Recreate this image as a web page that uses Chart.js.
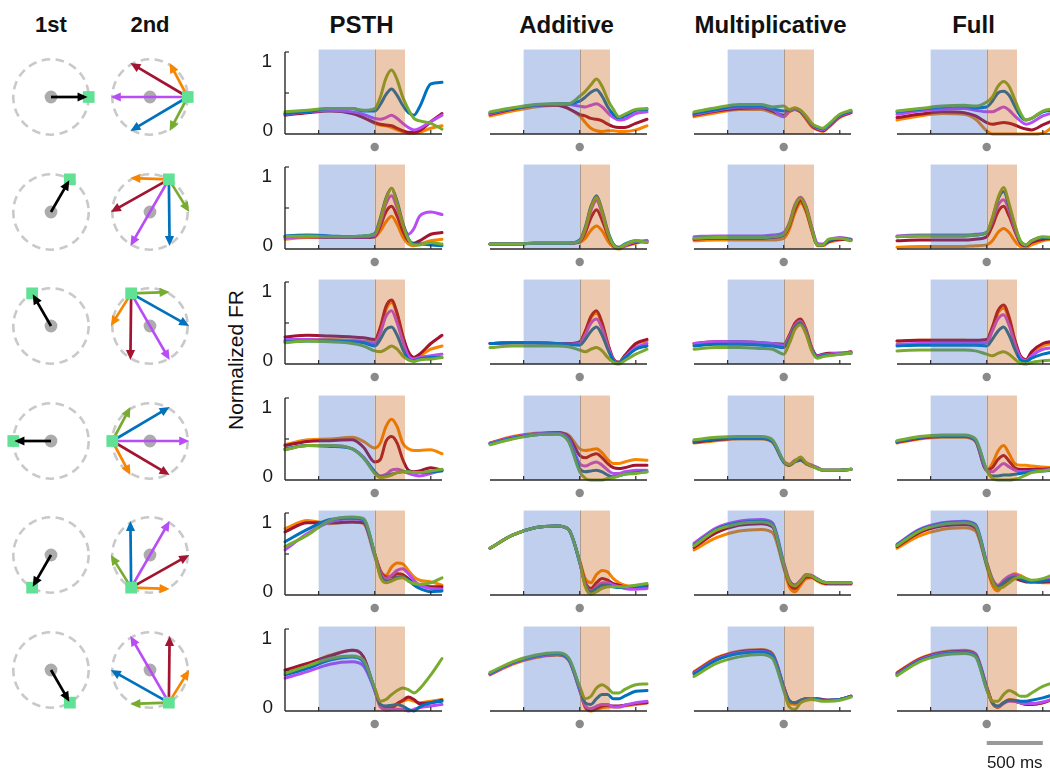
<!DOCTYPE html>
<html><head><meta charset="utf-8">
<script src="https://cdn.jsdelivr.net/npm/chart.js@4.4.1/dist/chart.umd.min.js"></script>
<style>
body{margin:0;background:#fff;width:1050px;height:772px;position:relative;overflow:hidden;font-family:"Liberation Sans",Arial,Helvetica,sans-serif;color:#111}
canvas{position:absolute}
.title{position:absolute;font-weight:bold;transform:translate(-50%,-50%);white-space:nowrap}
.ylab{position:absolute;font-size:21px;transform:translate(-50%,-50%) rotate(-90deg);white-space:nowrap}
</style></head><body>
<script>
// ---------------- DATA ----------------
const T = [-800,-600,-400,-200,-100,0,50,100,150,200,250,300,350,400,500,600]; // ms
const columnTitles = ['PSTH','Additive','Multiplicative','Full'];
const diagramTitles = ['1st','2nd'];
// series order: orange, dark red, magenta, blue, green  (2nd target at +60,+120,+180,+240,+300 deg)
const seriesColors = ['#F78500','#A2142F','#B94DF5','#0072BD','#77AC30'];
const firstAngles = [0,60,120,180,240,300];
const secondOffsets = [60,120,180,240,300];
const xTicks = [-500,0,500];
const yTicks = [0.5,1];
const yTickLabels = ['0','1'];
const blueEpoch = [-500,0];
const orangeEpoch = [0,270];
const scaleBarMs = 500;

// Row 1
const psth1 = [
 [.25,.27,.29,.26,.20,.13,.11,.10,.08,.05,.03,.01,.01,.02,.07,.10],
 [.23,.26,.28,.25,.20,.14,.12,.11,.10,.07,.04,.02,.02,.04,.15,.25],
 [.24,.27,.29,.27,.24,.19,.18,.20,.23,.19,.13,.08,.05,.07,.15,.23],
 [.25,.27,.31,.31,.28,.28,.36,.48,.55,.47,.35,.26,.23,.33,.61,.63],
 [.27,.29,.31,.31,.29,.31,.45,.68,.78,.66,.45,.30,.19,.16,.13,.06]];
const add1 = [
 [.22,.28,.33,.35,.31,.22,.14,.07,.04,.03,.04,.04,.03,.03,.05,.10],
 [.24,.30,.35,.35,.31,.24,.22,.19,.18,.16,.12,.09,.08,.08,.13,.18],
 [.25,.31,.35,.36,.36,.34,.33,.35,.37,.33,.26,.20,.17,.18,.25,.27],
 [.26,.31,.35,.37,.37,.40,.45,.51,.54,.46,.33,.24,.20,.22,.29,.30],
 [.27,.32,.36,.37,.37,.46,.52,.60,.67,.58,.42,.30,.21,.24,.30,.31]];
const mult1 = [
 [.21,.26,.30,.30,.26,.21,.27,.30,.27,.18,.09,.05,.03,.08,.20,.26],
 [.23,.28,.31,.32,.28,.23,.28,.30,.27,.19,.10,.06,.04,.09,.21,.26],
 [.24,.29,.33,.33,.30,.21,.28,.30,.28,.20,.11,.07,.05,.10,.22,.27],
 [.25,.30,.34,.34,.31,.28,.29,.31,.28,.21,.12,.08,.06,.11,.23,.28],
 [.27,.32,.36,.36,.33,.34,.30,.32,.29,.22,.13,.09,.07,.12,.24,.29]];
const full1 = [
 [.17,.22,.25,.24,.18,.04,.00,.00,.00,.00,.00,.00,.00,.00,.01,.10],
 [.20,.24,.27,.26,.22,.14,.12,.13,.14,.13,.11,.08,.06,.05,.11,.17],
 [.24,.28,.30,.31,.29,.27,.27,.30,.33,.29,.22,.16,.12,.14,.22,.26],
 [.27,.30,.33,.34,.32,.33,.40,.50,.52,.47,.34,.22,.17,.19,.27,.29],
 [.28,.31,.34,.35,.34,.39,.45,.58,.64,.58,.42,.26,.17,.19,.28,.31]];
// Row 2
const psth2 = [
 [.12,.14,.14,.14,.14,.15,.22,.33,.40,.30,.15,.06,.04,.06,.10,.12],
 [.15,.15,.14,.14,.14,.15,.28,.45,.52,.40,.22,.10,.07,.10,.18,.20],
 [.14,.15,.15,.15,.15,.17,.32,.55,.65,.50,.30,.18,.25,.40,.45,.42],
 [.16,.17,.16,.15,.16,.19,.38,.62,.74,.58,.32,.13,.06,.06,.05,.04],
 [.15,.16,.15,.15,.16,.18,.35,.60,.74,.55,.30,.12,.05,.05,.08,.06]];
const add2 = [
 [.06,.06,.07,.07,.07,.08,.13,.23,.28,.22,.10,.02,.00,.03,.07,.09],
 [.06,.06,.07,.07,.07,.09,.20,.38,.48,.35,.17,.04,.01,.04,.08,.10],
 [.06,.06,.07,.07,.07,.10,.24,.47,.59,.43,.20,.05,.01,.04,.09,.10],
 [.06,.06,.07,.07,.07,.11,.27,.52,.65,.47,.22,.06,.02,.06,.10,.08],
 [.06,.06,.07,.07,.07,.10,.25,.50,.63,.45,.20,.05,.01,.05,.10,.08]];
const mult2 = [
 [.10,.11,.11,.11,.11,.13,.24,.44,.56,.45,.22,.04,.04,.08,.11,.12],
 [.12,.13,.13,.13,.14,.17,.28,.48,.59,.47,.24,.05,.05,.09,.12,.11],
 [.15,.16,.16,.16,.17,.20,.32,.54,.63,.52,.27,.07,.06,.11,.14,.12],
 [.13,.14,.14,.14,.15,.18,.30,.52,.62,.50,.25,.05,.05,.10,.13,.11],
 [.13,.14,.14,.14,.15,.18,.30,.52,.62,.50,.25,.05,.05,.12,.13,.10]];
const full2 = [
 [.02,.03,.03,.03,.04,.05,.10,.20,.25,.20,.10,.03,.02,.05,.10,.12],
 [.10,.11,.11,.11,.12,.15,.28,.45,.52,.40,.22,.07,.04,.08,.12,.13],
 [.16,.17,.17,.17,.18,.20,.34,.53,.60,.47,.25,.09,.05,.10,.14,.14],
 [.15,.16,.16,.16,.17,.20,.37,.60,.70,.52,.28,.09,.05,.10,.14,.13],
 [.15,.16,.16,.16,.17,.20,.38,.62,.75,.55,.30,.10,.05,.10,.15,.14]];
// Row 3
const psth3 = [
 [.28,.30,.30,.29,.28,.27,.42,.66,.75,.60,.33,.14,.08,.10,.18,.22],
 [.33,.35,.34,.33,.32,.30,.45,.70,.78,.62,.35,.15,.08,.12,.25,.35],
 [.30,.30,.29,.28,.27,.25,.38,.58,.65,.50,.28,.10,.06,.08,.10,.12],
 [.27,.28,.28,.27,.26,.22,.30,.42,.45,.35,.18,.06,.04,.06,.08,.08],
 [.26,.28,.27,.25,.22,.16,.15,.18,.22,.18,.10,.05,.03,.05,.06,.08]];
const add3 = [
 [.25,.26,.26,.25,.25,.27,.40,.56,.62,.48,.24,.06,.02,.10,.24,.28],
 [.25,.26,.26,.25,.25,.27,.40,.58,.65,.50,.25,.06,.02,.10,.25,.30],
 [.25,.26,.26,.25,.24,.25,.36,.50,.55,.43,.22,.05,.02,.08,.20,.25],
 [.25,.26,.26,.25,.24,.23,.30,.40,.45,.35,.18,.04,.01,.07,.18,.22],
 [.20,.22,.22,.22,.21,.17,.15,.18,.20,.16,.08,.02,.00,.04,.12,.18]];
const mult3 = [
 [.24,.26,.26,.25,.24,.23,.34,.48,.53,.40,.19,.09,.11,.12,.13,.14],
 [.25,.27,.27,.26,.25,.24,.35,.50,.55,.42,.20,.10,.12,.13,.13,.15],
 [.25,.27,.27,.26,.25,.23,.33,.47,.52,.40,.19,.09,.11,.12,.13,.14],
 [.22,.24,.24,.23,.22,.20,.30,.45,.50,.38,.18,.08,.10,.11,.12,.13],
 [.18,.20,.20,.19,.18,.12,.25,.42,.48,.36,.16,.07,.09,.10,.12,.13]];
const full3 = [
 [.28,.29,.29,.29,.28,.29,.44,.62,.68,.54,.28,.09,.05,.13,.22,.25],
 [.28,.29,.29,.29,.29,.30,.45,.65,.72,.57,.30,.10,.05,.15,.25,.28],
 [.24,.25,.25,.25,.25,.26,.40,.55,.60,.47,.25,.08,.04,.10,.18,.20],
 [.22,.23,.23,.23,.23,.22,.30,.40,.45,.35,.18,.05,.03,.07,.12,.15],
 [.16,.17,.17,.17,.16,.12,.10,.13,.15,.12,.06,.01,.00,.02,.04,.05]];
// Row 4
const psth4 = [
 [.43,.49,.50,.52,.47,.39,.45,.65,.74,.65,.45,.38,.36,.36,.37,.32],
 [.42,.47,.48,.49,.40,.22,.25,.47,.53,.45,.25,.12,.10,.11,.15,.12],
 [.37,.42,.42,.38,.28,.10,.05,.07,.12,.13,.11,.08,.06,.05,.08,.12],
 [.38,.42,.41,.38,.27,.10,.04,.05,.07,.09,.10,.10,.09,.09,.10,.11],
 [.37,.42,.42,.38,.27,.08,.03,.04,.06,.09,.10,.10,.09,.09,.11,.13]];
const add4 = [
 [.45,.53,.57,.58,.55,.38,.36,.37,.38,.33,.25,.20,.20,.22,.25,.24],
 [.45,.52,.56,.58,.53,.30,.27,.30,.32,.27,.20,.15,.14,.15,.18,.18],
 [.45,.52,.56,.57,.50,.20,.17,.20,.22,.18,.12,.08,.08,.10,.12,.12],
 [.44,.51,.55,.56,.48,.14,.10,.11,.12,.10,.06,.04,.05,.07,.09,.10],
 [.43,.50,.55,.56,.47,.10,.02,.00,.00,.00,.02,.03,.05,.07,.08,.10]];
const mult4 = [
 [.45,.48,.50,.50,.46,.22,.18,.24,.26,.20,.18,.15,.12,.12,.12,.13],
 [.46,.49,.51,.51,.47,.22,.18,.23,.25,.20,.17,.15,.12,.12,.12,.13],
 [.48,.51,.52,.52,.48,.23,.19,.24,.26,.21,.18,.15,.12,.12,.12,.13],
 [.47,.50,.51,.51,.47,.22,.18,.22,.24,.20,.17,.14,.12,.12,.12,.13],
 [.49,.52,.53,.53,.49,.23,.19,.23,.28,.21,.17,.14,.12,.12,.12,.13]];
const full4 = [
 [.45,.50,.52,.52,.47,.12,.20,.35,.42,.32,.20,.18,.18,.17,.16,.15],
 [.46,.51,.53,.53,.48,.12,.15,.25,.30,.23,.15,.13,.13,.13,.13,.14],
 [.47,.52,.54,.54,.49,.12,.10,.15,.20,.16,.12,.10,.10,.11,.12,.13],
 [.47,.52,.54,.54,.49,.12,.05,.05,.06,.06,.07,.08,.09,.10,.11,.12],
 [.48,.53,.55,.55,.50,.12,.02,.00,.00,.00,.01,.03,.06,.09,.11,.13]];
// Row 5
const psth5 = [
 [.81,.91,.87,.89,.87,.47,.28,.24,.34,.39,.38,.30,.22,.18,.16,.12],
 [.77,.88,.88,.89,.88,.50,.30,.22,.22,.26,.25,.20,.15,.12,.10,.10],
 [.55,.75,.89,.93,.91,.50,.28,.20,.24,.30,.32,.26,.18,.12,.08,.07],
 [.65,.80,.92,.94,.92,.50,.25,.17,.18,.22,.22,.18,.12,.08,.04,.05],
 [.59,.73,.91,.95,.93,.50,.22,.15,.17,.20,.21,.17,.14,.13,.15,.21]];
const add5 = [
 [.57,.73,.82,.84,.80,.42,.20,.15,.25,.30,.28,.20,.15,.12,.10,.12],
 [.57,.73,.82,.84,.80,.40,.15,.08,.15,.20,.18,.14,.12,.10,.08,.10],
 [.57,.73,.82,.84,.80,.40,.13,.05,.10,.15,.15,.12,.10,.08,.07,.08],
 [.57,.73,.82,.84,.80,.40,.12,.04,.08,.12,.12,.10,.09,.10,.11,.12],
 [.57,.73,.82,.84,.80,.40,.10,.01,.04,.08,.10,.10,.10,.10,.12,.14]];
const mult5 = [
 [.55,.70,.78,.80,.76,.33,.10,.04,.12,.20,.21,.17,.14,.13,.13,.13],
 [.58,.76,.85,.87,.83,.36,.14,.08,.15,.22,.22,.18,.15,.14,.14,.14],
 [.63,.82,.90,.92,.88,.40,.18,.12,.18,.25,.24,.20,.16,.15,.15,.15],
 [.61,.80,.88,.90,.86,.38,.17,.12,.17,.24,.23,.19,.16,.15,.15,.15],
 [.60,.79,.87,.89,.85,.37,.16,.11,.17,.24,.23,.19,.16,.15,.15,.15]];
const full5 = [
 [.57,.72,.80,.82,.78,.35,.12,.05,.15,.22,.26,.24,.20,.17,.15,.15],
 [.59,.76,.84,.86,.82,.37,.16,.09,.14,.18,.20,.18,.16,.16,.16,.17],
 [.62,.80,.88,.90,.86,.40,.20,.12,.18,.23,.25,.22,.18,.17,.18,.20],
 [.61,.79,.87,.89,.85,.39,.18,.10,.15,.20,.22,.20,.17,.16,.17,.18],
 [.60,.78,.86,.88,.84,.38,.17,.08,.10,.15,.20,.22,.20,.18,.20,.25]];
// Row 6
const psth6 = [
 [.48,.57,.68,.74,.66,.25,.06,.01,.02,.08,.12,.14,.12,.10,.12,.14],
 [.50,.58,.67,.74,.66,.26,.07,.03,.04,.09,.13,.17,.14,.09,.10,.13],
 [.40,.48,.57,.60,.55,.25,.05,.02,.02,.02,.02,.00,.02,.04,.06,.08],
 [.44,.52,.62,.66,.60,.27,.08,.06,.07,.08,.06,.02,.00,.05,.10,.12],
 [.46,.55,.64,.67,.62,.28,.12,.14,.20,.25,.28,.26,.22,.27,.44,.64]];
const add6 = [
 [.44,.57,.65,.68,.62,.25,.04,.00,.02,.04,.05,.05,.05,.06,.08,.10],
 [.45,.58,.66,.69,.63,.26,.05,.01,.03,.06,.07,.06,.06,.07,.09,.10],
 [.45,.58,.66,.69,.63,.26,.06,.03,.06,.08,.08,.05,.05,.07,.10,.12],
 [.46,.59,.67,.70,.64,.28,.10,.08,.15,.20,.20,.15,.15,.18,.24,.25],
 [.47,.60,.68,.71,.65,.30,.15,.18,.28,.32,.28,.22,.22,.26,.32,.33]];
const mult6 = [
 [.48,.65,.73,.75,.70,.30,.10,.08,.12,.14,.15,.15,.14,.13,.14,.18],
 [.47,.64,.72,.74,.69,.30,.12,.10,.13,.15,.15,.15,.14,.13,.14,.18],
 [.46,.63,.71,.73,.68,.29,.12,.10,.13,.15,.15,.14,.13,.13,.14,.18],
 [.45,.62,.70,.72,.67,.28,.13,.10,.13,.15,.14,.14,.13,.13,.14,.18],
 [.42,.58,.66,.69,.64,.25,.05,.02,.10,.13,.14,.13,.12,.12,.13,.17]];
const full6 = [
 [.47,.64,.72,.74,.70,.30,.10,.04,.10,.14,.13,.10,.08,.08,.10,.15],
 [.46,.63,.71,.73,.69,.29,.10,.05,.10,.13,.12,.10,.08,.08,.10,.15],
 [.45,.62,.70,.72,.68,.28,.10,.05,.09,.12,.12,.10,.09,.09,.11,.15],
 [.44,.61,.69,.71,.67,.27,.10,.06,.10,.13,.13,.12,.12,.13,.16,.20],
 [.43,.60,.68,.70,.66,.26,.12,.12,.20,.25,.22,.18,.18,.22,.30,.35]];

const panels = [
 [psth1,add1,mult1,full1],[psth2,add2,mult2,full2],[psth3,add3,mult3,full3],
 [psth4,add4,mult4,full4],[psth5,add5,mult5,full5],[psth6,add6,mult6,full6]];

// ---------------- LAYOUT ----------------
const colX0 = [285,490,694,897];
const rowBottom = [134,249,364,480,595,711];
const plotW = 157, plotH = 82;
const diagX = [51,150];
const diagY0 = 97, diagDY = 114.6, diagR = 37.7;
const FONT = '"Liberation Sans", Arial, Helvetica, sans-serif';

const panelPlugin = {
  id: 'panelDeco',
  afterDatasetsDraw(chart, args, opts) {
    const {ctx, scales:{x, y}} = chart;
    const yb = y.getPixelForValue(0), yt = y.getPixelForValue(1.03);
    ctx.save();
    const b0 = x.getPixelForValue(blueEpoch[0]), b1 = x.getPixelForValue(blueEpoch[1]);
    const o1 = x.getPixelForValue(orangeEpoch[1]);
    ctx.fillStyle = 'rgba(61,110,200,0.33)';
    ctx.fillRect(b0, yt, b1 - b0, yb - yt);
    ctx.fillStyle = 'rgba(197,88,12,0.33)';
    ctx.fillRect(b1, yt, o1 - b1, yb - yt);
    ctx.strokeStyle = 'rgba(120,120,120,0.55)'; ctx.lineWidth = 1;
    ctx.beginPath(); ctx.moveTo(Math.round(b1)+0.5, yt); ctx.lineTo(Math.round(b1)+0.5, yb); ctx.stroke();
    const xl = x.getPixelForValue(x.min), xr = x.getPixelForValue(x.max);
    ctx.strokeStyle = '#2a2a2a'; ctx.lineWidth = 1.4;
    ctx.beginPath(); ctx.moveTo(xl, yb); ctx.lineTo(xr, yb); ctx.stroke();
    ctx.lineWidth = 1.2;
    xTicks.forEach(t => { const px = x.getPixelForValue(t); ctx.beginPath(); ctx.moveTo(px, yb); ctx.lineTo(px, yb - 4); ctx.stroke(); });
    if (opts.col === 0) {
      const y1 = y.getPixelForValue(1);
      ctx.lineWidth = 1.4;
      ctx.beginPath(); ctx.moveTo(xl, yb); ctx.lineTo(xl, y1); ctx.stroke();
      ctx.lineWidth = 1.2;
      yTicks.forEach(v => { const py = y.getPixelForValue(v); ctx.beginPath(); ctx.moveTo(xl, py); ctx.lineTo(xl + 4, py); ctx.stroke(); });
      ctx.fillStyle = '#1a1a1a'; ctx.font = '19px ' + FONT; ctx.textAlign = 'right'; ctx.textBaseline = 'middle';
      ctx.fillText(yTickLabels[0], xl - 12, y.getPixelForValue(0) - 3);
      ctx.fillText(yTickLabels[1], xl - 13, y.getPixelForValue(1) + 10);
    }
    ctx.fillStyle = '#8a8a8a';
    ctx.beginPath(); ctx.arc(x.getPixelForValue(0), yb + 13, 4.2, 0, Math.PI * 2); ctx.fill();
    if (opts.scaleBar) {
      const s0 = x.getPixelForValue(0), s1 = x.getPixelForValue(scaleBarMs);
      ctx.strokeStyle = '#9a9a9a'; ctx.lineWidth = 4;
      ctx.beginPath(); ctx.moveTo(s0, yb + 32); ctx.lineTo(s1, yb + 32); ctx.stroke();
      ctx.fillStyle = '#1a1a1a'; ctx.font = '17px ' + FONT; ctx.textAlign = 'center'; ctx.textBaseline = 'middle';
      ctx.fillText(scaleBarMs + ' ms', (s0 + s1) / 2, yb + 52);
    }
    ctx.restore();
  }
};

function makePanel(row, col) {
  const series = panels[row][col];
  const last = (row === 5 && col === 3);
  const padL = 30, padR = 6, padT = 8, padB = last ? 64 : 24;
  const c = document.createElement('canvas');
  c.width = plotW + padL + padR; c.height = plotH + padT + padB;
  c.style.left = (colX0[col] - padL) + 'px';
  c.style.top = (rowBottom[row] - plotH - padT) + 'px';
  document.body.appendChild(c);
  const drawOrder = [4, 3, 2, 1, 0];
  const datasets = drawOrder.map(k => ({
    data: T.map((t, i) => ({x: t, y: series[k][i]})),
    borderColor: seriesColors[k], borderWidth: 3, pointRadius: 0,
    cubicInterpolationMode: 'monotone', fill: false, clip: false,
    borderJoinStyle: 'round', borderCapStyle: 'round'
  }));
  new Chart(c, {
    type: 'line', data: {datasets},
    options: {
      responsive: false, animation: false, devicePixelRatio: 1, events: [],
      layout: {padding: {left: padL, right: padR, top: padT, bottom: padB}, autoPadding: false},
      plugins: {legend: {display: false}, tooltip: {enabled: false}, panelDeco: {col, scaleBar: last}},
      scales: {x: {type: 'linear', min: -800, max: 600, display: false}, y: {min: 0, max: 1, display: false}}
    },
    plugins: [panelPlugin]
  });
}

function pol(a, r) { const t = a * Math.PI / 180; return {x: r * Math.cos(t), y: r * Math.sin(t)}; }

function drawArrow(ctx, x0, y0, x1, y1, color, lw) {
  const dx = x1 - x0, dy = y1 - y0, L = Math.hypot(dx, dy), ux = dx / L, uy = dy / L;
  const hl = 10, hw = 4.6;
  const bx = x1 - ux * hl, by = y1 - uy * hl;
  ctx.strokeStyle = color; ctx.fillStyle = color; ctx.lineWidth = lw; ctx.lineCap = 'butt';
  ctx.beginPath(); ctx.moveTo(x0, y0); ctx.lineTo(bx + ux, by + uy); ctx.stroke();
  ctx.beginPath(); ctx.moveTo(x1, y1); ctx.lineTo(bx - uy * hw, by + ux * hw); ctx.lineTo(bx + uy * hw, by - ux * hw); ctx.closePath(); ctx.fill();
}

const diagramPlugin = {
  id: 'diag',
  beforeDatasetsDraw(chart) {
    const {ctx, scales:{x, y}} = chart;
    ctx.save();
    ctx.strokeStyle = '#c9c9c9'; ctx.lineWidth = 2.6; ctx.setLineDash([8.5, 5.5]);
    ctx.beginPath(); ctx.arc(x.getPixelForValue(0), y.getPixelForValue(0), x.getPixelForValue(1) - x.getPixelForValue(0), 0, Math.PI * 2); ctx.stroke();
    ctx.restore();
  },
  afterDatasetDraw(chart, args, opts) {
    if (opts.which !== 1 || args.index !== 1) return;
    const {ctx, scales:{x, y}} = chart;
    const p0 = pol(opts.first, 1);
    ctx.save();
    secondOffsets.forEach((off, k) => {
      const p1 = pol(opts.first + off, 1.04);
      drawArrow(ctx, x.getPixelForValue(p0.x), y.getPixelForValue(p0.y), x.getPixelForValue(p1.x), y.getPixelForValue(p1.y), seriesColors[k], 2.7);
    });
    ctx.restore();
  },
  afterDatasetsDraw(chart, args, opts) {
    if (opts.which !== 0) return;
    const {ctx, scales:{x, y}} = chart;
    const p1 = pol(opts.first, 0.97);
    ctx.save();
    drawArrow(ctx, x.getPixelForValue(0), y.getPixelForValue(0), x.getPixelForValue(p1.x), y.getPixelForValue(p1.y), '#000', 2.7);
    ctx.restore();
  }
};

function makeDiagram(row, which) {
  const S = 110, half = (S / 2) / diagR;
  const cx = diagX[which], cy = diagY0 + diagDY * row;
  const c = document.createElement('canvas');
  c.width = S; c.height = S;
  c.style.left = (cx - S / 2) + 'px'; c.style.top = (cy - S / 2) + 'px';
  document.body.appendChild(c);
  const first = firstAngles[row];
  const sq = pol(first, 1);
  new Chart(c, {
    type: 'scatter',
    data: {datasets: [
      {data: [sq], pointStyle: 'rect', pointRadius: 8.3, backgroundColor: '#61E193', borderWidth: 0},
      {data: [{x: 0, y: 0}], pointStyle: 'circle', pointRadius: 6.4, backgroundColor: '#acacac', borderWidth: 0}
    ]},
    options: {
      responsive: false, animation: false, devicePixelRatio: 1, events: [],
      layout: {padding: 0, autoPadding: false},
      plugins: {legend: {display: false}, tooltip: {enabled: false}, diag: {which, first}},
      scales: {x: {type: 'linear', min: -half, max: half, display: false}, y: {type: 'linear', min: -half, max: half, display: false}}
    },
    plugins: [diagramPlugin]
  });
}

function addText(cls, text, x, y, size) {
  const d = document.createElement('div');
  d.className = cls; d.textContent = text;
  d.style.left = x + 'px'; d.style.top = y + 'px';
  if (size) d.style.fontSize = size + 'px';
  document.body.appendChild(d);
}

diagramTitles.forEach((t, i) => addText('title', t, diagX[i], 25, 22));
columnTitles.forEach((t, i) => addText('title', t, colX0[i] + plotW / 2 - 2, 25, 24));
addText('ylab', 'Normalized FR', 236, 360);

for (let r = 0; r < 6; r++) {
  makeDiagram(r, 0); makeDiagram(r, 1);
  for (let c = 0; c < 4; c++) makePanel(r, c);
}
</script>
</body></html>
